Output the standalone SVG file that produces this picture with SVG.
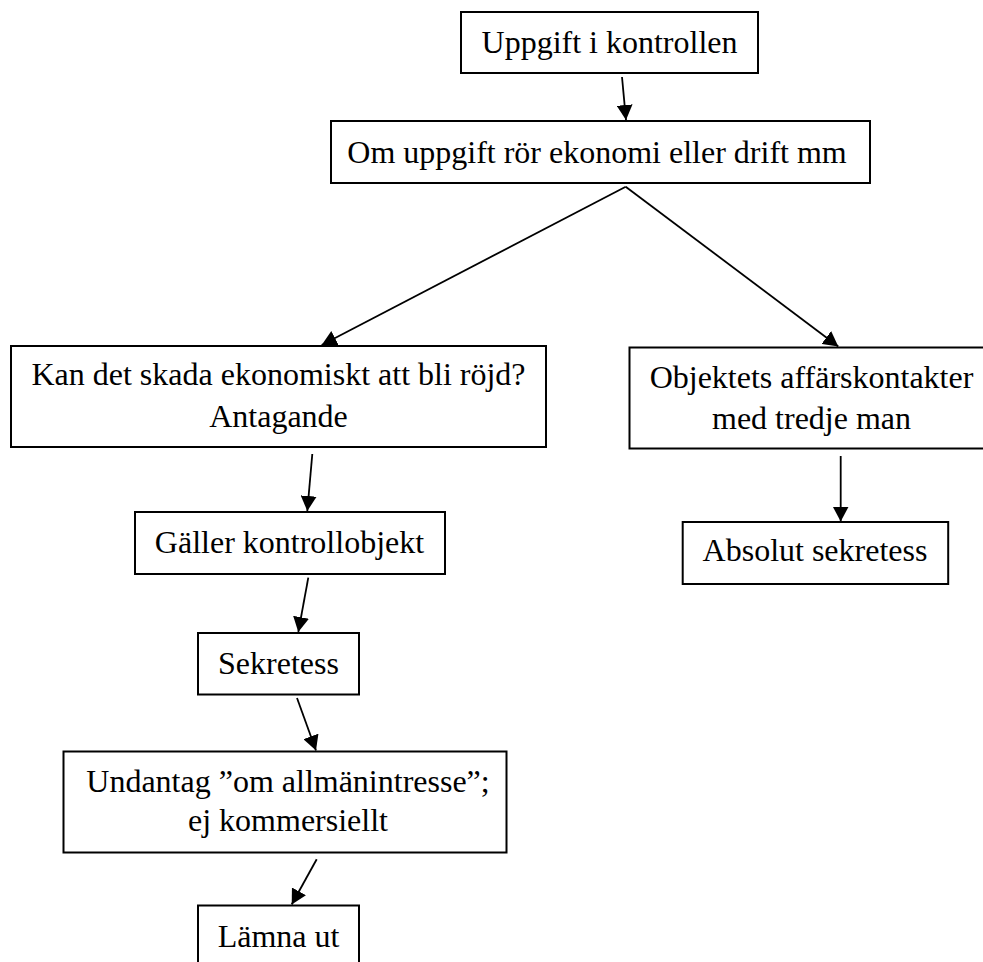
<svg xmlns="http://www.w3.org/2000/svg" width="983" height="962" viewBox="0 0 983 962">
<style>
.box{fill:#fff;stroke:#000;stroke-width:2}
.t{font-family:"Liberation Serif","Times New Roman",serif;font-size:32px;fill:#000;text-anchor:middle}
.c{fill:none;stroke:#000;stroke-width:1.8;marker-end:url(#ah)}
</style>
<defs>
<marker id="ah" viewBox="0 0 15 16" refX="15" refY="8" markerWidth="15" markerHeight="16" markerUnits="userSpaceOnUse" orient="auto">
<path d="M0,0 L15,8 L0,16 z" fill="#000"/>
</marker>
</defs>
<rect width="983" height="962" fill="#fff"/>
<g id="n1"><rect class="box" x="461" y="12" width="297" height="61"/><text class="t" x="609.5" y="53">Uppgift i kontrollen</text></g>
<g id="n2"><rect class="box" x="331" y="121" width="539" height="62"/><text class="t" x="597" y="163">Om uppgift rör ekonomi eller drift mm</text></g>
<g id="n3"><rect class="box" x="11" y="346" width="535" height="101"/><text class="t" x="278.5" y="385">Kan det skada ekonomiskt att bli röjd?</text><text class="t" x="278.5" y="427">Antagande</text></g>
<g id="n4"><rect class="box" x="629.5" y="347.5" width="370" height="101"/><text class="t" x="811.5" y="388">Objektets affärskontakter</text><text class="t" x="811.5" y="429">med tredje man</text></g>
<g id="n5"><rect class="box" x="135" y="512" width="310" height="62"/><text class="t" x="289.5" y="552.5">Gäller kontrollobjekt</text></g>
<g id="n6"><rect class="box" x="682.7" y="522" width="265.5" height="62"/><text class="t" x="815" y="561">Absolut sekretess</text></g>
<g id="n7"><rect class="box" x="198" y="633" width="161" height="61.5"/><text class="t" x="278.5" y="673.5">Sekretess</text></g>
<g id="n8"><rect class="box" x="63.5" y="751.5" width="443" height="101"/><text class="t" x="288" y="792">Undantag ”om allmänintresse”;</text><text class="t" x="288" y="831">ej kommersiellt</text></g>
<g id="n9"><rect class="box" x="198" y="905.5" width="161" height="80"/><text class="t" x="278.5" y="946.5">Lämna ut</text></g>
<g id="connectors">
<line class="c" x1="622" y1="77" x2="626" y2="120"/>
<line class="c" x1="625.7" y1="186.7" x2="321.7" y2="345"/>
<line class="c" x1="625.7" y1="186.7" x2="838.3" y2="346.5"/>
<line class="c" x1="312.3" y1="454" x2="307.3" y2="511"/>
<line class="c" x1="308.3" y1="577.7" x2="298.3" y2="632"/>
<line class="c" x1="297" y1="698" x2="316" y2="750.5"/>
<line class="c" x1="316.7" y1="859.3" x2="291.7" y2="904.5"/>
<line class="c" x1="840.7" y1="456" x2="840.7" y2="521.5"/>
</g>
</svg>
